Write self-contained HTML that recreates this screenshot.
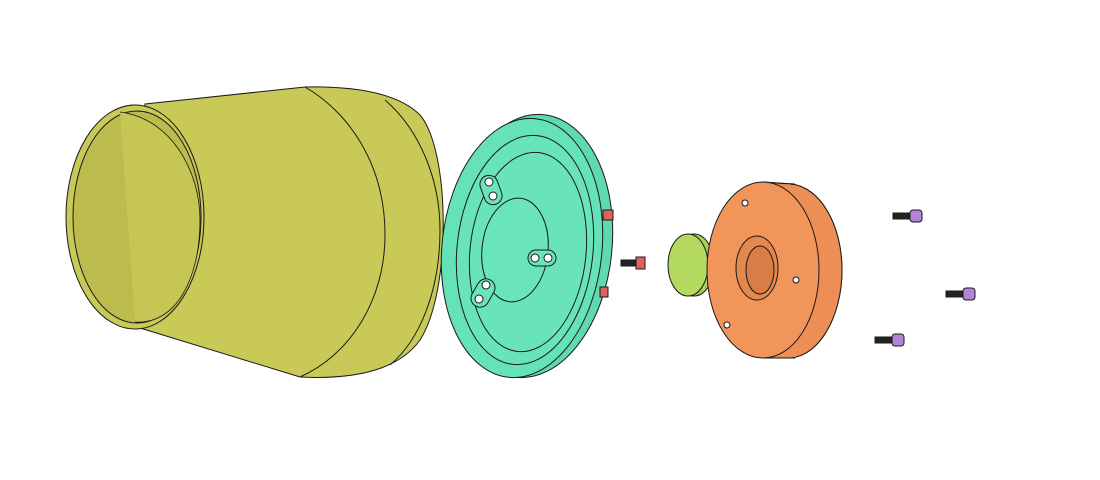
<!DOCTYPE html>
<html><head><meta charset="utf-8"><style>
html,body{margin:0;padding:0;background:#fff;width:1100px;height:480px;overflow:hidden}
svg{display:block}
</style></head><body>
<svg width="1100" height="480" viewBox="0 0 1100 480" stroke="#1a1a1a" stroke-width="1">
<!-- yellow cup -->
<g>
  <path d="M145,104 L305,87 C360,86 400,95 420,115 C450,150 452,290 420,340 C400,368 360,380 300,377 L140,328 Z" fill="#c9c957"/>
  <path d="M305,87 C345,110 385,160 385,235 C385,300 350,355 300,377" fill="none"/>
  <path d="M385,100 C420,130 440,180 440,230 C440,290 420,340 390,365" fill="none"/>
  <ellipse cx="135" cy="217" rx="69" ry="112" fill="#c9c957"/>
  <ellipse cx="137" cy="217" rx="64" ry="106" fill="#bcbc4e"/>
  <path d="M120,112 C170,118 200,170 200,220 C200,280 175,325 135,322" fill="#c6c654" stroke-width="0.8"/>
</g>
<!-- teal disc -->
<g>
  <ellipse cx="530" cy="246" rx="82" ry="132" transform="rotate(6 530 246)" fill="#5fd9ae"/>
  <ellipse cx="522" cy="248" rx="80" ry="130" transform="rotate(6 522 248)" fill="#66e2b9"/>
  <ellipse cx="525" cy="250" rx="68" ry="115" transform="rotate(6 525 250)" fill="#68e3bb"/>
  <ellipse cx="528" cy="252" rx="58" ry="100" transform="rotate(6 528 252)" fill="none"/>
  <ellipse cx="515" cy="250" rx="33" ry="52" transform="rotate(6 515 250)" fill="#6ae4bd"/>
  <rect x="482" y="175" width="18" height="30" rx="9" transform="rotate(-20 491 190)" fill="#6ae4bd"/>
  <circle cx="489" cy="182" r="4" fill="#fff"/><circle cx="493" cy="196" r="4" fill="#fff"/>
  <rect x="474" y="278" width="18" height="30" rx="9" transform="rotate(30 483 293)" fill="#6ae4bd"/>
  <circle cx="486" cy="285" r="4" fill="#fff"/><circle cx="479" cy="299" r="4" fill="#fff"/>
  <rect x="528" y="250" width="28" height="16" rx="8" fill="#6ae4bd"/>
  <circle cx="535" cy="258" r="4" fill="#fff"/><circle cx="548" cy="258" r="4" fill="#fff"/>
</g>
<!-- red screws -->
<g>
  <rect x="603" y="210" width="10" height="10" fill="#e06060"/>
</g>
<g>
  <rect x="621" y="260" width="16" height="6" fill="#222"/>
  <rect x="636" y="257" width="9" height="12" fill="#e06060"/>
</g>
<g>
  <rect x="600" y="287" width="8" height="10" fill="#e06060"/>
</g>
<!-- green puck -->
<g>
  <ellipse cx="694" cy="265" rx="20" ry="31" fill="#a9cf55"/>
  <ellipse cx="688" cy="265" rx="20" ry="31" fill="#b4d95f"/>
</g>
<!-- orange ring -->
<g>
  <path d="M762,182 L790,184 C820,186 842,225 842,270 C842,315 820,356 790,358 L762,358 Z" fill="#e88a50"/>
  <ellipse cx="790" cy="271" rx="52" ry="87" fill="#ec8e55" stroke="none"/>
  <path d="M790,184 C820,186 842,225 842,270 C842,315 820,356 790,358" fill="none"/>
  <line x1="762" y1="182" x2="795" y2="184"/><line x1="762" y1="358" x2="795" y2="358"/>
  <ellipse cx="763" cy="270" rx="56" ry="88" fill="#f2955a"/>
  <ellipse cx="757" cy="268" rx="21" ry="32" fill="#e5884f"/>
  <ellipse cx="760" cy="270" rx="14" ry="24" fill="#d97c45"/>
  <circle cx="745" cy="203" r="3" fill="#fff"/><circle cx="796" cy="280" r="3" fill="#fff"/><circle cx="727" cy="325" r="3" fill="#fff"/>
</g>
<!-- purple screws -->
<g>
  <rect x="893" y="213" width="18" height="6" fill="#222"/><rect x="910" y="210" width="12" height="12" rx="3" fill="#b084d6"/>
</g>
<g>
  <rect x="946" y="291" width="18" height="6" fill="#222"/><rect x="963" y="288" width="12" height="12" rx="3" fill="#b084d6"/>
</g>
<g>
  <rect x="875" y="337" width="18" height="6" fill="#222"/><rect x="892" y="334" width="12" height="12" rx="3" fill="#b084d6"/>
</g>
</svg>
</body></html>
